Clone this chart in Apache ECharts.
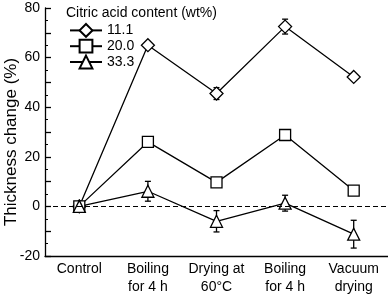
<!DOCTYPE html>
<html>
<head>
<meta charset="utf-8">
<script src="https://cdn.jsdelivr.net/npm/echarts@6/dist/echarts.min.js"></script>
<style>
  html, body { margin: 0; padding: 0; background: #fff; }
  #chart { width: 388px; height: 295px; }
</style>
</head>
<body>
<div id="chart"></div>
<script>
  // treatments along the x axis
  const categories = ['Control', 'Boiling\nfor 4 h', 'Drying at\n60°C', 'Boiling\nfor 4 h', 'Vacuum\ndrying']
  const seriesNames = ['11.1', '20.0', '33.3']
  // thickness change (%) per citric acid content
  const val111 = [0, 65, 45.5, 72.5, 52.2]
  const val200 = [0, 26, 9.7, 28.8, 6.4]
  const val333 = [0, 6.1, -6, 1.3, -11.2]
  // error bar half-widths (0 = none drawn)
  const err111 = [0, 0, 2.4, 3, 0]
  const err200 = [0, 0, 0, 0, 0]
  const err333 = [1.5, 4, 4.3, 3.2, 5.6]
  const yTicks = [-20, 0, 20, 40, 60, 80]

  const font = 'Liberation Sans, Arial, sans-serif'
  const chart = echarts.init(document.getElementById('chart'))

  function errData(vals, errs) {
    return vals.map((v, i) => [i, v, errs[i]]).filter(d => d[2] > 0)
  }

  function errSeries(vals, errs) {
    return {
      type: 'custom',
      z: 1,
      silent: true,
      data: errData(vals, errs),
      renderItem: (params, api) => {
        const x = api.value(0)
        const m = api.value(1)
        const e = api.value(2)
        const top = api.coord([x, m + e])
        const bot = api.coord([x, m - e])
        const style = { stroke: '#000', lineWidth: 1.3 }
        return {
          type: 'group',
          children: [
            { type: 'line', shape: { x1: top[0], y1: top[1], x2: bot[0], y2: bot[1] }, style },
            { type: 'line', shape: { x1: top[0] - 3, y1: top[1], x2: top[0] + 3, y2: top[1] }, style },
            { type: 'line', shape: { x1: bot[0] - 3, y1: bot[1], x2: bot[0] + 3, y2: bot[1] }, style }
          ]
        }
      }
    }
  }

  function lineSeries(name, vals, symbol, size) {
    return {
      name: name,
      type: 'line',
      z: 3,
      data: vals,
      symbol: symbol,
      symbolSize: size,
      showAllSymbol: true,
      lineStyle: { color: '#000', width: 1.3 },
      itemStyle: { color: '#fff', borderColor: '#000', borderWidth: 1.3 },
      emphasis: { disabled: true }
    }
  }

  const s1 = lineSeries(seriesNames[0], val111, 'diamond', 13)
  const s2 = lineSeries(seriesNames[1], val200, 'rect', 11)
  const s3 = lineSeries(seriesNames[2], val333, 'triangle', 12)
  s3.markLine = {
    silent: true,
    symbol: 'none',
    label: { show: false },
    lineStyle: { color: '#000', type: [5, 3], width: 1 },
    data: [{ yAxis: 0 }]
  }

  chart.setOption({
    animation: false,
    textStyle: { fontFamily: font },
    title: {
      text: 'Citric acid content (wt%)',
      left: 61,
      top: 1,
      textStyle: { fontSize: 14, fontWeight: 'normal', color: '#000', fontFamily: font }
    },
    legend: {
      orient: 'vertical',
      left: 64,
      top: 18,
      itemWidth: 32,
      itemHeight: 16,
      itemGap: 1,
      data: seriesNames,
      textStyle: { fontSize: 14, color: '#000', fontFamily: font }
    },
    graphic: [{
      type: 'text',
      x: 11,
      y: 142,
      rotation: Math.PI / 2,
      style: {
        text: 'Thickness change (%)',
        fontSize: 17,
        fontFamily: font,
        fill: '#000',
        align: 'center',
        verticalAlign: 'middle'
      }
    }],
    grid: { left: 45, right: 0, top: 8, bottom: 39, outerBoundsMode: 'none' },
    xAxis: {
      type: 'category',
      data: categories,
      boundaryGap: true,
      axisLine: { onZero: false, lineStyle: { color: '#000', width: 1.3 } },
      axisTick: { alignWithLabel: true, inside: true, length: 5, lineStyle: { color: '#000', width: 1.3 } },
      axisLabel: { color: '#000', fontSize: 14, lineHeight: 18, margin: 4, interval: 0, fontFamily: font },
      splitLine: { show: false }
    },
    yAxis: {
      type: 'value',
      min: yTicks[0],
      max: yTicks[yTicks.length - 1],
      interval: 10,
      axisLine: { show: true, lineStyle: { color: '#000', width: 1.3 } },
      axisTick: { show: true, inside: true, length: 6, lineStyle: { color: '#000', width: 1.3 } },
      minorTick: { show: true, splitNumber: 2, length: 3, lineStyle: { color: '#000', width: 1 } },
      axisLabel: {
        color: '#000', fontSize: 14, margin: 5, fontFamily: font,
        formatter: v => (yTicks.indexOf(v) >= 0 ? String(v) : '')
      },
      splitLine: { show: false }
    },
    series: [
      errSeries(val111, err111),
      errSeries(val200, err200),
      errSeries(val333, err333),
      s1, s2, s3
    ]
  })
</script>
</body>
</html>
